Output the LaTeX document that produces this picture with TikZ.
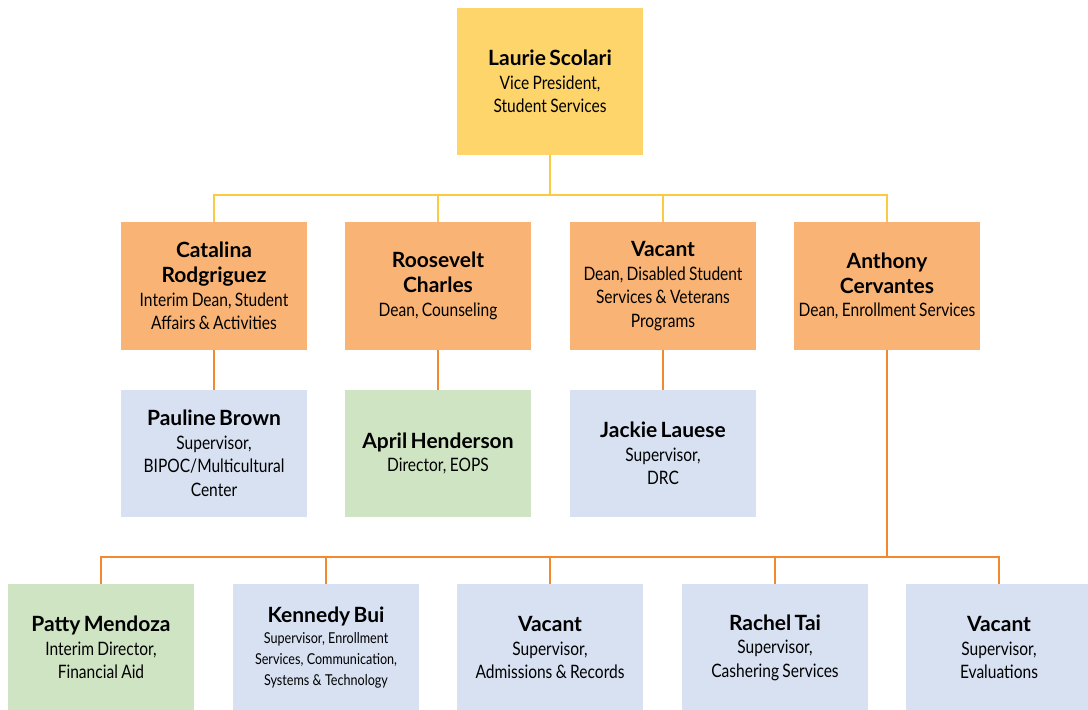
\documentclass[tikz,border=0pt]{standalone}
\usepackage{fontspec}
\setmainfont{Lato}
\newfontfamily\rolefont[FakeStretch=0.84]{Lato}
\hyphenpenalty=10000

\definecolor{vpyellow}{HTML}{FDD56A}
\definecolor{deanorange}{HTML}{F9B475}
\definecolor{staffblue}{HTML}{D7E1F2}
\definecolor{leadgreen}{HTML}{CFE4C3}
\definecolor{linkyellow}{HTML}{FACB42}
\definecolor{linkorange}{HTML}{F4882C}

% name in bold, title below it
\newcommand{\who}[2]{{\fontsize{21}{25}\selectfont\bfseries #1\par}%
  {\rolefont\fontsize{18.5}{23.5}\selectfont #2\par}}

\begin{document}
\begin{tikzpicture}[x=1pt, y=-1pt,
  every node/.style = {shape=rectangle, align=center,
    text width=184pt, minimum width=186pt, inner sep=0pt},
  vp/.style = {fill=vpyellow, minimum height=147pt},
  dean/.style = {fill=deanorange, minimum height=128pt},
  staff/.style = {fill=staffblue, minimum height=127pt},
  lead/.style = {fill=leadgreen, minimum height=127pt},
  ylink/.style = {draw=linkyellow, line width=2pt},
  olink/.style = {draw=linkorange, line width=2pt}]
  \useasboundingbox (0,0) rectangle (1088,710);

  \node [vp] (ls) at (550,81.5) {\who{Laurie Scolari}{Vice President,\\Student Services}};

  % deans
  \node [dean] (cr) at (214,286) {\who{Catalina\\Rodgriguez}{Interim Dean, Student\\Affairs \& Activities}};
  \node [dean] (rc) at (438,286) {\who{Roosevelt\\Charles}{Dean, Counseling}};
  \node [dean] (vd) at (663,286) {\who{Vacant}{Dean, Disabled Student\\Services \& Veterans\\Programs}};
  \node [dean] (ac) at (887,286) {\who{Anthony\\Cervantes}{Dean, Enrollment Services}};

  % under the deans
  \node [staff] (pb) at (214,453.5) {\who{Pauline Brown}{Supervisor,\\BIPOC/Multicultural\\Center}};
  \node [lead] (ah) at (438,453.5) {\who{April Henderson}{Director, EOPS}};
  \node [staff] (jl) at (663,453.5) {\who{Jackie Lauese}{Supervisor,\\DRC}};

  % enrollment services
  \node [lead] (pm) at (101,647.5) {\who{Patty Mendoza}{Interim Director,\\Financial Aid}};
  \node [staff] (kb) at (326,647.5) {\who{Kennedy Bui}{\fontsize{15}{21}\selectfont Supervisor, Enrollment\\Services, Communication,\\Systems \& Technology}};
  \node [staff] (va) at (550,647.5) {\who{Vacant}{Supervisor,\\Admissions \& Records}};
  \node [staff] (rt) at (775,647.5) {\who{Rachel Tai}{Supervisor,\\Cashering Services}};
  \node [staff] (ve) at (999,647.5) {\who{Vacant}{Supervisor,\\Evaluations}};

  \coordinate (vpbus) at (550,195);
  \coordinate (esbus) at (887,557);

  \foreach \n in {cr,rc,vd,ac}
    \draw [ylink] (ls.south) -- (vpbus) -| (\n.north);
  \draw [olink] (cr) -- (pb);
  \draw [olink] (rc) -- (ah);
  \draw [olink] (vd) -- (jl);
  \foreach \n in {pm,kb,va,rt,ve}
    \draw [olink] (ac.south) -- (esbus) -| (\n.north);
\end{tikzpicture}
\end{document}
